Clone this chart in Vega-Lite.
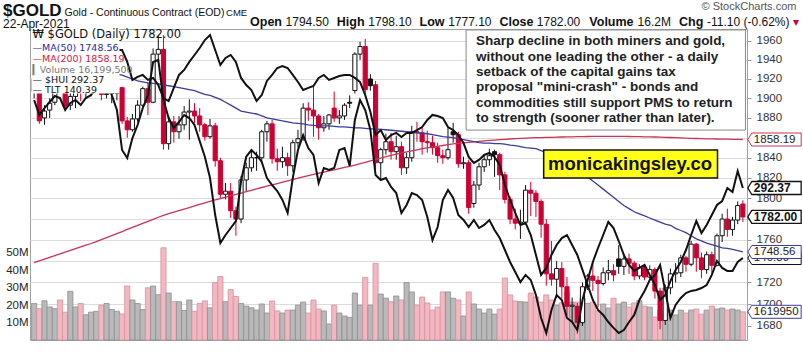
{
"$schema":"https://vega.github.io/schema/vega-lite/v6.json",
"width":717,"height":311,
"autosize":{"type":"none"},
"padding":{"left":30,"top":29,"right":56,"bottom":18},
"background":"white",
"config":{"view":{"stroke":"#a0a0a0","strokeWidth":1},"font":"Liberation Sans","axis":{"labelFont":"Liberation Sans","titleFont":"Liberation Sans"},"text":{"font":"Liberation Sans"}},
"datasets":{"gold":[
{"d":"2020-10-05","o":1907,"h":1922,"l":1900,"c":1920,"v":21,"m50":1938,"m200":1738.5,"hui":319.45,"tlt":158.75},
{"d":"2020-10-06","o":1920,"h":1925,"l":1874,"c":1877,"v":18,"m50":1937,"m200":1740.1,"hui":314.83,"tlt":159.01},
{"d":"2020-10-07","o":1880,"h":1893,"l":1873,"c":1887,"v":22.5,"m50":1936,"m200":1741.8,"hui":316.99,"tlt":158.49},
{"d":"2020-10-08","o":1888,"h":1900,"l":1880,"c":1895,"v":19,"m50":1935,"m200":1743.4,"hui":318.83,"tlt":158.67},
{"d":"2020-10-09","o":1896,"h":1935,"l":1893,"c":1930,"v":18,"m50":1934,"m200":1745.1,"hui":320.68,"tlt":159.18},
{"d":"2020-10-12","o":1930,"h":1935,"l":1918,"c":1925,"v":23,"m50":1933,"m200":1746.7,"hui":320.06,"tlt":159.53},
{"d":"2020-10-13","o":1925,"h":1929,"l":1888,"c":1892,"v":16,"m50":1932,"m200":1748.4,"hui":316.37,"tlt":159.18},
{"d":"2020-10-14","o":1893,"h":1910,"l":1888,"c":1902,"v":28,"m50":1931,"m200":1750.0,"hui":318.52,"tlt":158.84},
{"d":"2020-10-15","o":1902,"h":1912,"l":1890,"c":1908,"v":19,"m50":1930,"m200":1751.7,"hui":319.45,"tlt":158.32},
{"d":"2020-10-16","o":1908,"h":1916,"l":1897,"c":1906,"v":21,"m50":1929,"m200":1753.3,"hui":317.91,"tlt":158.49},
{"d":"2020-10-19","o":1906,"h":1921,"l":1900,"c":1911,"v":14.5,"m50":1928,"m200":1755.0,"hui":320.06,"tlt":157.89},
{"d":"2020-10-20","o":1911,"h":1923,"l":1902,"c":1914,"v":16,"m50":1927.5,"m200":1756.6,"hui":320.99,"tlt":158.15},
{"d":"2020-10-21","o":1914,"h":1936,"l":1910,"c":1930,"v":16.5,"m50":1927,"m200":1758.3,"hui":323.14,"tlt":157.63},
{"d":"2020-10-22","o":1930,"h":1932,"l":1898,"c":1904,"v":20,"m50":1926.5,"m200":1760.2,"hui":321.91,"tlt":157.29},
{"d":"2020-10-23","o":1904,"h":1915,"l":1900,"c":1905,"v":21,"m50":1926,"m200":1762.2,"hui":324.06,"tlt":157.63},
{"d":"2020-10-26","o":1905,"h":1916,"l":1895,"c":1905,"v":17.5,"m50":1925.5,"m200":1764.1,"hui":320.99,"tlt":157.98},
{"d":"2020-10-27","o":1905,"h":1917,"l":1898,"c":1911,"v":16.5,"m50":1925,"m200":1766.1,"hui":316.37,"tlt":158.32},
{"d":"2020-10-28","o":1911,"h":1912,"l":1874,"c":1877,"v":15,"m50":1924,"m200":1768.0,"hui":304.06,"tlt":158.32},
{"d":"2020-10-29","o":1877,"h":1881,"l":1860,"c":1868,"v":31,"m50":1922,"m200":1770.0,"hui":301.60,"tlt":157.29},
{"d":"2020-10-30","o":1868,"h":1884,"l":1866,"c":1879,"v":23,"m50":1920,"m200":1771.9,"hui":307.75,"tlt":155.74},
{"d":"2020-11-02","o":1879,"h":1898,"l":1876,"c":1893,"v":21,"m50":1918,"m200":1773.9,"hui":311.75,"tlt":156.0},
{"d":"2020-11-03","o":1893,"h":1912,"l":1890,"c":1910,"v":17.5,"m50":1917,"m200":1775.8,"hui":316.99,"tlt":156.17},
{"d":"2020-11-04","o":1910,"h":1916,"l":1883,"c":1896,"v":30,"m50":1916,"m200":1777.8,"hui":320.99,"tlt":155.74},
{"d":"2020-11-05","o":1896,"h":1952,"l":1895,"c":1946,"v":31,"m50":1915.5,"m200":1779.7,"hui":331.14,"tlt":155.91},
{"d":"2020-11-06","o":1946,"h":1965,"l":1937,"c":1951,"v":26,"m50":1915,"m200":1781.7,"hui":331.76,"tlt":155.30},
{"d":"2020-11-09","o":1951,"h":1966,"l":1848,"c":1854,"v":53,"m50":1914,"m200":1783.6,"hui":319.45,"tlt":154.18},
{"d":"2020-11-10","o":1854,"h":1882,"l":1848,"c":1876,"v":27,"m50":1913,"m200":1785.1,"hui":313.91,"tlt":153.92},
{"d":"2020-11-11","o":1876,"h":1882,"l":1855,"c":1866,"v":22,"m50":1912,"m200":1786.6,"hui":310.83,"tlt":155.05},
{"d":"2020-11-12","o":1866,"h":1882,"l":1859,"c":1873,"v":22,"m50":1911,"m200":1788.1,"hui":312.68,"tlt":156.17},
{"d":"2020-11-13","o":1873,"h":1892,"l":1868,"c":1886,"v":17,"m50":1910,"m200":1789.6,"hui":314.83,"tlt":156.60},
{"d":"2020-11-16","o":1886,"h":1899,"l":1858,"c":1887,"v":23,"m50":1909,"m200":1791.1,"hui":313.91,"tlt":157.29},
{"d":"2020-11-17","o":1887,"h":1895,"l":1875,"c":1882,"v":16.5,"m50":1908,"m200":1792.6,"hui":311.75,"tlt":157.89},
{"d":"2020-11-18","o":1882,"h":1890,"l":1866,"c":1873,"v":21,"m50":1906,"m200":1794.1,"hui":306.83,"tlt":158.49},
{"d":"2020-11-19","o":1873,"h":1875,"l":1857,"c":1861,"v":22.5,"m50":1904,"m200":1795.6,"hui":301.99,"tlt":159.18},
{"d":"2020-11-20","o":1861,"h":1879,"l":1859,"c":1872,"v":18.5,"m50":1903,"m200":1797.1,"hui":295.45,"tlt":159.61},
{"d":"2020-11-23","o":1872,"h":1875,"l":1831,"c":1837,"v":33,"m50":1901,"m200":1798.5,"hui":284.06,"tlt":158.32},
{"d":"2020-11-24","o":1837,"h":1840,"l":1800,"c":1804,"v":36.5,"m50":1899,"m200":1799.8,"hui":275.45,"tlt":157.03},
{"d":"2020-11-25","o":1804,"h":1815,"l":1799,"c":1807,"v":22,"m50":1896,"m200":1801.2,"hui":277.91,"tlt":157.63},
{"d":"2020-11-27","o":1807,"h":1815,"l":1781,"c":1788,"v":29,"m50":1893,"m200":1802.5,"hui":280.06,"tlt":157.89},
{"d":"2020-11-30","o":1788,"h":1792,"l":1764,"c":1780,"v":25,"m50":1890,"m200":1803.9,"hui":282.22,"tlt":157.29},
{"d":"2020-12-01","o":1780,"h":1822,"l":1776,"c":1818,"v":21,"m50":1887,"m200":1805.2,"hui":294.52,"tlt":155.91},
{"d":"2020-12-02","o":1818,"h":1835,"l":1807,"c":1830,"v":19.5,"m50":1886,"m200":1806.6,"hui":301.99,"tlt":155.30},
{"d":"2020-12-03","o":1830,"h":1847,"l":1826,"c":1840,"v":18.5,"m50":1885,"m200":1807.9,"hui":304.06,"tlt":154.87},
{"d":"2020-12-04","o":1840,"h":1846,"l":1827,"c":1840,"v":17.2,"m50":1884,"m200":1809.3,"hui":302.52,"tlt":153.92},
{"d":"2020-12-07","o":1840,"h":1868,"l":1836,"c":1866,"v":20.7,"m50":1882,"m200":1810.6,"hui":300.37,"tlt":154.44},
{"d":"2020-12-08","o":1866,"h":1877,"l":1856,"c":1874,"v":15.5,"m50":1880,"m200":1811.9,"hui":295.45,"tlt":155.65},
{"d":"2020-12-09","o":1874,"h":1878,"l":1834,"c":1839,"v":22.4,"m50":1879,"m200":1813.2,"hui":293.29,"tlt":156.17},
{"d":"2020-12-10","o":1839,"h":1849,"l":1827,"c":1836,"v":16.7,"m50":1878,"m200":1814.5,"hui":291.45,"tlt":156.77},
{"d":"2020-12-11","o":1836,"h":1851,"l":1830,"c":1840,"v":15.5,"m50":1877,"m200":1815.8,"hui":288.68,"tlt":156.94},
{"d":"2020-12-14","o":1840,"h":1845,"l":1822,"c":1832,"v":17.2,"m50":1876,"m200":1817.1,"hui":284.68,"tlt":156.77},
{"d":"2020-12-15","o":1832,"h":1858,"l":1826,"c":1855,"v":17.2,"m50":1875,"m200":1818.4,"hui":295.45,"tlt":156.17},
{"d":"2020-12-16","o":1855,"h":1868,"l":1850,"c":1859,"v":20,"m50":1874.5,"m200":1819.7,"hui":304.06,"tlt":155.56},
{"d":"2020-12-17","o":1859,"h":1895,"l":1857,"c":1890,"v":21.8,"m50":1874,"m200":1821.0,"hui":308.68,"tlt":154.87},
{"d":"2020-12-18","o":1890,"h":1896,"l":1877,"c":1888,"v":15.5,"m50":1873,"m200":1822.3,"hui":304.68,"tlt":155.05},
{"d":"2020-12-21","o":1888,"h":1912,"l":1861,"c":1882,"v":23,"m50":1872.5,"m200":1823.4,"hui":302.52,"tlt":155.22},
{"d":"2020-12-22","o":1882,"h":1884,"l":1858,"c":1870,"v":17.8,"m50":1872,"m200":1824.6,"hui":293.91,"tlt":155.91},
{"d":"2020-12-23","o":1870,"h":1882,"l":1866,"c":1874,"v":16.7,"m50":1872,"m200":1825.7,"hui":298.52,"tlt":156.17},
{"d":"2020-12-24","o":1874,"h":1884,"l":1868,"c":1883,"v":9.2,"m50":1872,"m200":1826.9,"hui":297.91,"tlt":155.74},
{"d":"2020-12-28","o":1890,"h":1907,"l":1876,"c":1880,"v":20,"m50":1871.5,"m200":1828.0,"hui":298.52,"tlt":155.91},
{"d":"2020-12-29","o":1880,"h":1888,"l":1874,"c":1882,"v":15.5,"m50":1871,"m200":1829.2,"hui":304.06,"tlt":156.08},
{"d":"2020-12-30","o":1882,"h":1895,"l":1878,"c":1893,"v":13.8,"m50":1871,"m200":1830.3,"hui":304.68,"tlt":156.17},
{"d":"2020-12-31","o":1896,"h":1903,"l":1890,"c":1895,"v":13,"m50":1870.5,"m200":1831.5,"hui":299.14,"tlt":156.17},
{"d":"2021-01-04","o":1908,"h":1948,"l":1905,"c":1946,"v":27,"m50":1870,"m200":1832.6,"hui":313.29,"tlt":155.91},
{"d":"2021-01-05","o":1946,"h":1959,"l":1940,"c":1954,"v":20,"m50":1870,"m200":1834.0,"hui":319.45,"tlt":155.56},
{"d":"2021-01-06","o":1954,"h":1962,"l":1903,"c":1909,"v":36,"m50":1869.5,"m200":1835.4,"hui":316.37,"tlt":154.44},
{"d":"2021-01-07","o":1920,"h":1925,"l":1908,"c":1913,"v":20,"m50":1869,"m200":1836.8,"hui":310.22,"tlt":152.98},
{"d":"2021-01-08","o":1914,"h":1918,"l":1828,"c":1835,"v":44,"m50":1869,"m200":1838.2,"hui":296.37,"tlt":150.99},
{"d":"2021-01-11","o":1835,"h":1850,"l":1818,"c":1848,"v":26.4,"m50":1868.5,"m200":1839.6,"hui":294.83,"tlt":151.42},
{"d":"2021-01-12","o":1848,"h":1864,"l":1843,"c":1856,"v":24,"m50":1868,"m200":1841.0,"hui":295.45,"tlt":150.56},
{"d":"2021-01-13","o":1856,"h":1865,"l":1838,"c":1846,"v":22,"m50":1867.5,"m200":1842.4,"hui":292.68,"tlt":150.99},
{"d":"2021-01-14","o":1846,"h":1862,"l":1838,"c":1851,"v":25.3,"m50":1867,"m200":1843.5,"hui":290.83,"tlt":151.17},
{"d":"2021-01-15","o":1851,"h":1856,"l":1823,"c":1830,"v":23,"m50":1866.5,"m200":1844.6,"hui":284.68,"tlt":150.82},
{"d":"2021-01-19","o":1830,"h":1845,"l":1824,"c":1840,"v":33,"m50":1866,"m200":1845.7,"hui":287.14,"tlt":151.17},
{"d":"2021-01-20","o":1840,"h":1872,"l":1836,"c":1866,"v":27.6,"m50":1865.5,"m200":1846.8,"hui":290.83,"tlt":151.17},
{"d":"2021-01-21","o":1866,"h":1876,"l":1856,"c":1865,"v":20,"m50":1865,"m200":1847.9,"hui":290.22,"tlt":151.42},
{"d":"2021-01-22","o":1865,"h":1870,"l":1843,"c":1856,"v":24.7,"m50":1864.5,"m200":1849.0,"hui":288.68,"tlt":151.68},
{"d":"2021-01-25","o":1856,"h":1867,"l":1845,"c":1855,"v":21.3,"m50":1864,"m200":1849.8,"hui":283.45,"tlt":152.29},
{"d":"2021-01-26","o":1855,"h":1862,"l":1843,"c":1850,"v":17.2,"m50":1863,"m200":1850.6,"hui":276.37,"tlt":152.72},
{"d":"2021-01-27","o":1850,"h":1855,"l":1835,"c":1842,"v":18.9,"m50":1862,"m200":1851.4,"hui":280.37,"tlt":152.63},
{"d":"2021-01-28","o":1842,"h":1848,"l":1834,"c":1840,"v":27.6,"m50":1861,"m200":1852.2,"hui":288.68,"tlt":152.46},
{"d":"2021-01-29","o":1840,"h":1870,"l":1838,"c":1848,"v":27.6,"m50":1860.5,"m200":1853.0,"hui":291.75,"tlt":151.68},
{"d":"2021-02-01","o":1866,"h":1875,"l":1855,"c":1863,"v":24,"m50":1860,"m200":1853.8,"hui":289.29,"tlt":151.42},
{"d":"2021-02-02","o":1863,"h":1866,"l":1830,"c":1834,"v":23,"m50":1859,"m200":1854.3,"hui":284.06,"tlt":150.99},
{"d":"2021-02-03","o":1834,"h":1841,"l":1829,"c":1835,"v":13.8,"m50":1858,"m200":1854.8,"hui":282.52,"tlt":150.30},
{"d":"2021-02-04","o":1835,"h":1838,"l":1785,"c":1791,"v":27.6,"m50":1857,"m200":1855.3,"hui":280.37,"tlt":149.10},
{"d":"2021-02-05","o":1795,"h":1817,"l":1791,"c":1813,"v":20.7,"m50":1856,"m200":1855.8,"hui":282.52,"tlt":148.58},
{"d":"2021-02-08","o":1813,"h":1835,"l":1808,"c":1831,"v":17.8,"m50":1855,"m200":1856.3,"hui":280.06,"tlt":148.84},
{"d":"2021-02-09","o":1831,"h":1843,"l":1826,"c":1838,"v":15.5,"m50":1854.5,"m200":1856.8,"hui":281.0,"tlt":149.27},
{"d":"2021-02-10","o":1838,"h":1849,"l":1832,"c":1842,"v":17.8,"m50":1854.5,"m200":1857.3,"hui":282.52,"tlt":149.44},
{"d":"2021-02-11","o":1846,"h":1848,"l":1821,"c":1843,"v":14.9,"m50":1854,"m200":1857.6,"hui":279.45,"tlt":149.10},
{"d":"2021-02-12","o":1843,"h":1845,"l":1808,"c":1823,"v":17.8,"m50":1854,"m200":1858.0,"hui":276.99,"tlt":148.41},
{"d":"2021-02-16","o":1823,"h":1826,"l":1795,"c":1799,"v":35.6,"m50":1853.5,"m200":1858.3,"hui":273.29,"tlt":146.68},
{"d":"2021-02-17","o":1799,"h":1802,"l":1775,"c":1780,"v":25.9,"m50":1852.5,"m200":1858.7,"hui":269.60,"tlt":145.39},
{"d":"2021-02-18","o":1780,"h":1790,"l":1770,"c":1776,"v":22.4,"m50":1852,"m200":1859.0,"hui":266.52,"tlt":144.27},
{"d":"2021-02-19","o":1776,"h":1789,"l":1761,"c":1777,"v":22,"m50":1851,"m200":1859.4,"hui":263.45,"tlt":143.23},
{"d":"2021-02-22","o":1777,"h":1813,"l":1775,"c":1808,"v":21.8,"m50":1850,"m200":1859.6,"hui":265.60,"tlt":143.41},
{"d":"2021-02-23","o":1808,"h":1816,"l":1783,"c":1805,"v":27,"m50":1849.5,"m200":1859.8,"hui":264.06,"tlt":142.37},
{"d":"2021-02-24","o":1805,"h":1808,"l":1782,"c":1797,"v":24.7,"m50":1849,"m200":1860.0,"hui":259.45,"tlt":140.65},
{"d":"2021-02-25","o":1797,"h":1799,"l":1762,"c":1775,"v":21.8,"m50":1847,"m200":1860.1,"hui":252.37,"tlt":138.93},
{"d":"2021-02-26","o":1775,"h":1780,"l":1717,"c":1728,"v":25.9,"m50":1845,"m200":1860.3,"hui":247.76,"tlt":139.53},
{"d":"2021-03-01","o":1728,"h":1759,"l":1717,"c":1723,"v":23,"m50":1843,"m200":1860.4,"hui":254.83,"tlt":140.65},
{"d":"2021-03-02","o":1723,"h":1740,"l":1706,"c":1733,"v":20,"m50":1840,"m200":1860.6,"hui":259.45,"tlt":141.51},
{"d":"2021-03-03","o":1733,"h":1739,"l":1705,"c":1716,"v":21.3,"m50":1837,"m200":1860.7,"hui":257.91,"tlt":142.11},
{"d":"2021-03-04","o":1716,"h":1725,"l":1690,"c":1698,"v":27.6,"m50":1834,"m200":1860.8,"hui":252.37,"tlt":142.37},
{"d":"2021-03-05","o":1698,"h":1706,"l":1684,"c":1699,"v":21.8,"m50":1831,"m200":1860.9,"hui":251.14,"tlt":141.51},
{"d":"2021-03-08","o":1698,"h":1701,"l":1673,"c":1683,"v":21.8,"m50":1828,"m200":1861.0,"hui":248.68,"tlt":140.65},
{"d":"2021-03-09","o":1683,"h":1720,"l":1680,"c":1716,"v":24,"m50":1825,"m200":1861.1,"hui":257.91,"tlt":139.36},
{"d":"2021-03-10","o":1716,"h":1728,"l":1713,"c":1726,"v":21,"m50":1821,"m200":1861.2,"hui":264.06,"tlt":138.06},
{"d":"2021-03-11","o":1726,"h":1739,"l":1712,"c":1722,"v":21.8,"m50":1817,"m200":1861.3,"hui":269.60,"tlt":136.77},
{"d":"2021-03-12","o":1722,"h":1726,"l":1697,"c":1719,"v":16.7,"m50":1813,"m200":1861.3,"hui":273.91,"tlt":135.91},
{"d":"2021-03-15","o":1719,"h":1734,"l":1717,"c":1729,"v":20.7,"m50":1809,"m200":1861.4,"hui":277.91,"tlt":135.48},
{"d":"2021-03-16","o":1729,"h":1741,"l":1722,"c":1731,"v":18.4,"m50":1805,"m200":1861.4,"hui":281.91,"tlt":134.87},
{"d":"2021-03-17","o":1731,"h":1737,"l":1721,"c":1727,"v":24,"m50":1801,"m200":1861.4,"hui":280.06,"tlt":134.36},
{"d":"2021-03-18","o":1742,"h":1755,"l":1728,"c":1735,"v":20.7,"m50":1797,"m200":1861.3,"hui":276.06,"tlt":133.92},
{"d":"2021-03-19","o":1735,"h":1745,"l":1727,"c":1742,"v":21.8,"m50":1793,"m200":1861.3,"hui":271.75,"tlt":134.18},
{"d":"2021-03-22","o":1742,"h":1747,"l":1728,"c":1738,"v":18.9,"m50":1790,"m200":1861.2,"hui":268.68,"tlt":134.87},
{"d":"2021-03-23","o":1738,"h":1740,"l":1722,"c":1726,"v":21.3,"m50":1787,"m200":1861.1,"hui":266.83,"tlt":135.48},
{"d":"2021-03-24","o":1726,"h":1737,"l":1723,"c":1734,"v":22.6,"m50":1785,"m200":1861.0,"hui":267.76,"tlt":136.77},
{"d":"2021-03-25","o":1734,"h":1737,"l":1722,"c":1725,"v":19.5,"m50":1783,"m200":1860.9,"hui":268.68,"tlt":137.55},
{"d":"2021-03-26","o":1725,"h":1736,"l":1722,"c":1732,"v":18.9,"m50":1781,"m200":1860.8,"hui":265.60,"tlt":138.49},
{"d":"2021-03-29","o":1732,"h":1734,"l":1705,"c":1712,"v":13.2,"m50":1779,"m200":1860.7,"hui":262.52,"tlt":138.93},
{"d":"2021-03-30","o":1712,"h":1715,"l":1677,"c":1685,"v":17.2,"m50":1777,"m200":1860.6,"hui":257.91,"tlt":139.79},
{"d":"2021-03-31","o":1685,"h":1718,"l":1681,"c":1715,"v":14.9,"m50":1775,"m200":1860.4,"hui":259.45,"tlt":137.55},
{"d":"2021-04-01","o":1715,"h":1733,"l":1709,"c":1728,"v":17.2,"m50":1774,"m200":1860.2,"hui":263.75,"tlt":135.22},
{"d":"2021-04-05","o":1728,"h":1738,"l":1720,"c":1729,"v":14.4,"m50":1771,"m200":1860.0,"hui":267.14,"tlt":136.34},
{"d":"2021-04-06","o":1729,"h":1746,"l":1725,"c":1743,"v":17.2,"m50":1769,"m200":1859.8,"hui":269.60,"tlt":136.94},
{"d":"2021-04-07","o":1743,"h":1745,"l":1730,"c":1737,"v":15.5,"m50":1767,"m200":1859.6,"hui":273.29,"tlt":137.37},
{"d":"2021-04-08","o":1737,"h":1759,"l":1735,"c":1756,"v":17.2,"m50":1764,"m200":1859.4,"hui":277.91,"tlt":137.55},
{"d":"2021-04-09","o":1756,"h":1757,"l":1730,"c":1743,"v":17.8,"m50":1761,"m200":1859.2,"hui":282.22,"tlt":137.63},
{"d":"2021-04-12","o":1743,"h":1748,"l":1724,"c":1732,"v":14.9,"m50":1759,"m200":1859.0,"hui":278.52,"tlt":137.80},
{"d":"2021-04-13","o":1732,"h":1749,"l":1728,"c":1746,"v":17.2,"m50":1757,"m200":1858.9,"hui":281.0,"tlt":138.06},
{"d":"2021-04-14","o":1746,"h":1749,"l":1729,"c":1736,"v":19.5,"m50":1755.5,"m200":1858.8,"hui":284.06,"tlt":138.93},
{"d":"2021-04-15","o":1736,"h":1766,"l":1735,"c":1764,"v":17.8,"m50":1754,"m200":1858.7,"hui":287.14,"tlt":140.13},
{"d":"2021-04-16","o":1764,"h":1785,"l":1758,"c":1780,"v":18.4,"m50":1752.5,"m200":1858.6,"hui":288.37,"tlt":139.53},
{"d":"2021-04-19","o":1780,"h":1790,"l":1763,"c":1770,"v":17.2,"m50":1752,"m200":1858.5,"hui":292.37,"tlt":139.27},
{"d":"2021-04-20","o":1770,"h":1782,"l":1764,"c":1779,"v":17.8,"m50":1751,"m200":1858.4,"hui":291.14,"tlt":139.27},
{"d":"2021-04-21","o":1779,"h":1797,"l":1775,"c":1793,"v":17.2,"m50":1749.8,"m200":1858.3,"hui":297.60,"tlt":140.05},
{"d":"2021-04-22","o":1794.5,"h":1798.1,"l":1777.1,"c":1782,"v":16.2,"m50":1748.56,"m200":1858.19,"hui":292.37,"tlt":140.39}
]},
"data":{"name":"gold"},
"resolve":{"scale":{"y":"independent"}},
"layer":[
{"transform":[{"window":[{"op":"lag","field":"c","as":"pc"}],"sort":[{"field":"d","order":"ascending"}]}],
 "layer":[
  {"mark":{"type":"bar","width":{"band":1},"strokeWidth":0.8},
   "encoding":{
    "x":{"field":"d","type":"ordinal","scale":{"type":"band","paddingInner":0,"paddingOuter":0.3},
      "axis":{"orient":"bottom","values":["2020-10-05","2020-10-12","2020-10-19","2020-10-26","2020-11-02","2020-11-09","2020-11-16","2020-11-23","2020-12-01","2020-12-07","2020-12-14","2020-12-21","2020-12-28","2021-01-04","2021-01-11","2021-01-19","2021-01-25","2021-02-01","2021-02-08","2021-02-16","2021-02-22","2021-03-01","2021-03-08","2021-03-15","2021-03-22","2021-03-29","2021-04-01","2021-04-12","2021-04-19"],
       "labelExpr":"datum.value == '2020-11-02' ? 'Nov' : datum.value == '2020-12-01' ? 'Dec' : datum.value == '2021-01-04' ? '2021' : datum.value == '2021-02-01' ? 'Feb' : datum.value == '2021-03-01' ? 'Mar' : datum.value == '2021-04-01' ? 'Apr' : '' + toNumber(substring(datum.value, 8, 10))",
       "labelFontWeight":{"condition":{"test":"indexof(['2020-11-02','2020-12-01','2021-01-04','2021-02-01','2021-03-01','2021-04-01'], datum.value) >= 0","value":"bold"},"value":"normal"},
       "labelFontSize":{"condition":{"test":"indexof(['2020-11-02','2020-12-01','2021-01-04','2021-02-01','2021-03-01','2021-04-01'], datum.value) >= 0","value":12.5},"value":11.5},
       "labelAngle":0,"labelOverlap":false,"labelColor":"#222","labelPadding":3,"ticks":false,"domain":false,"bandPosition":0.5,
       "grid":true,"gridColor":"#dcdcdc","title":null}},
    "y":{"field":"v","type":"quantitative","scale":{"domain":[0,178.7],"nice":false,"zero":true},
      "axis":{"orient":"left","values":[10,20,30,40,50],"labelExpr":"datum.value + 'M'","grid":false,"ticks":false,"domain":false,"labelFontSize":11.5,"labelColor":"#222","labelPadding":2,"title":null}},
    "fill":{"condition":{"test":"datum.pc != null && datum.c < datum.pc","value":"#f2b8c2"},"value":"#b9b9b9"},
    "stroke":{"condition":{"test":"datum.pc != null && datum.c < datum.pc","value":"#d8909d"},"value":"#8e8e8e"}
   }},
  {"transform":[{"filter":"datum.d == '2021-04-22'"}],
   "mark":{"type":"point","shape":"M0,0L0.3,-0.5L4.1,-0.5L4.1,0.5L0.3,0.5Z","size":676,"filled":false,"fill":"white","stroke":"#3b3b99","strokeWidth":1,"xOffset":5,"opacity":1},
   "encoding":{"x":{"field":"d","type":"ordinal","axis":null},"y":{"field":"v","type":"quantitative"}}},
  {"transform":[{"filter":"datum.d == '2021-04-22'"}],
   "mark":{"type":"text","align":"left","baseline":"middle","dx":11,"fontSize":11.5,"color":"#222"},
   "encoding":{"x":{"field":"d","type":"ordinal","axis":null},"y":{"field":"v","type":"quantitative"},"text":{"value":"1619950"}}}
 ]},
{"transform":[{"window":[{"op":"lag","field":"c","as":"pc"}],"sort":[{"field":"d","order":"ascending"}]}],
 "layer":[
  {"mark":{"type":"rule","strokeWidth":1},
   "encoding":{"x":{"field":"d","type":"ordinal","axis":null},
    "y":{"field":"l","type":"quantitative","scale":{"type":"log","domain":[1667.3,1972.6],"nice":false,"zero":false},
     "axis":{"orient":"right","values":[1680,1700,1720,1740,1760,1780,1800,1820,1840,1860,1880,1900,1920,1940,1960],"labelExpr":"indexof([1740,1780,1860], datum.value) >= 0 ? '' : '' + datum.value","grid":true,"gridColor":"#dcdcdc","domain":false,"ticks":true,"tickSize":4,"tickColor":"#999","labelFontSize":11.5,"labelColor":"#333","labelPadding":5,"title":null}},
    "y2":{"field":"h"},
    "color":{"condition":{"test":"datum.pc != null && datum.c < datum.pc","value":"#cc0033"},"value":"#111"}}},
  {"mark":{"type":"bar","width":{"band":0.8},"strokeWidth":1},
   "encoding":{"x":{"field":"d","type":"ordinal","axis":null},
    "y":{"field":"o","type":"quantitative"},"y2":{"field":"c"},
    "fill":{"condition":[{"test":"datum.c >= datum.o","value":"white"},{"test":"datum.pc != null && datum.c < datum.pc","value":"#cc0033"}],"value":"#111"},
    "stroke":{"condition":{"test":"datum.pc != null && datum.c < datum.pc","value":"#cc0033"},"value":"#111"}}},
  {"mark":{"type":"line","color":"#cc3355","strokeWidth":1.3},
   "encoding":{"x":{"field":"d","type":"ordinal","axis":null},"y":{"field":"m200","type":"quantitative"}}},
  {"mark":{"type":"line","color":"#3b3b99","strokeWidth":1.3},
   "encoding":{"x":{"field":"d","type":"ordinal","axis":null},"y":{"field":"m50","type":"quantitative"}}}
 ]},
{"layer":[
  {"mark":{"type":"line","color":"#111","strokeWidth":2},
   "encoding":{"x":{"field":"d","type":"ordinal","axis":null},"y":{"field":"hui","type":"quantitative","scale":{"domain":[245.6,341.3],"nice":false,"zero":false},"axis":null}}},
  {"transform":[{"filter":"datum.d == '2021-04-22'"}],
   "mark":{"type":"point","shape":"M0,0L0.3,-0.5L4.1,-0.5L4.1,0.5L0.3,0.5Z","size":676,"filled":false,"fill":"white","stroke":"#111","strokeWidth":1.3,"xOffset":5,"opacity":1},
   "encoding":{"x":{"field":"d","type":"ordinal","axis":null},"y":{"field":"hui","type":"quantitative"}}},
  {"transform":[{"filter":"datum.d == '2021-04-22'"}],
   "mark":{"type":"text","align":"left","baseline":"middle","dx":11,"fontSize":12,"fontWeight":"bold","color":"#111"},
   "encoding":{"x":{"field":"d","type":"ordinal","axis":null},"y":{"field":"hui","type":"quantitative"},"text":{"field":"hui","format":".2f"}}}
 ]},
{"layer":[
  {"mark":{"type":"line","color":"#111","strokeWidth":2},
   "encoding":{"x":{"field":"d","type":"ordinal","axis":null},"y":{"field":"tlt","type":"quantitative","scale":{"domain":[133.32,160.13],"nice":false,"zero":false},"axis":null}}},
  {"transform":[{"filter":"datum.d == '2021-04-22'"}],
   "mark":{"type":"point","shape":"M0,0L0.3,-0.5L4.1,-0.5L4.1,0.5L0.3,0.5Z","size":676,"filled":false,"fill":"white","stroke":"#111","strokeWidth":1,"xOffset":5,"opacity":1},
   "encoding":{"x":{"field":"d","type":"ordinal","axis":null},"y":{"field":"tlt","type":"quantitative"}}},
  {"transform":[{"filter":"datum.d == '2021-04-22'"}],
   "mark":{"type":"text","align":"left","baseline":"middle","dx":11,"fontSize":11.5,"color":"#222"},
   "encoding":{"x":{"field":"d","type":"ordinal","axis":null},"y":{"field":"tlt","type":"quantitative"},"text":{"field":"tlt","format":".2f"}}}
 ]},
{"layer":[
  {"data":{"values":[{"k":"legend"}]},
   "mark":{"type":"rect","fill":"white"},
   "encoding":{"x":{"datum":"2020-10-05","type":"ordinal","bandPosition":0,"axis":null},"x2":{"datum":"2020-10-27","bandPosition":1},
    "y":{"datum":1972.6,"type":"quantitative","scale":{"type":"log","domain":[1667.3,1972.6],"nice":false,"zero":false},"axis":null},"y2":{"datum":1905}}},
  {"data":{"values":[{"t":"\u20a9 $GOLD (Daily) 1782.00"}]},
   "mark":{"type":"text","align":"left","baseline":"middle","dx":1,"font":"DejaVu Sans","fontSize":11.5,"color":"#111"},
   "encoding":{"x":{"datum":"2020-10-05","type":"ordinal","bandPosition":0,"axis":null},"y":{"datum":1966.1,"type":"quantitative"},"text":{"field":"t"}}},
  {"data":{"values":[{"t":"\u2014MA(50) 1748.56"}]},
   "mark":{"type":"text","align":"left","baseline":"middle","dx":1,"font":"DejaVu Sans","fontSize":9.5,"color":"#2b2b99"},
   "encoding":{"x":{"datum":"2020-10-05","type":"ordinal","bandPosition":0,"axis":null},"y":{"datum":1952.7,"type":"quantitative"},"text":{"field":"t"}}},
  {"data":{"values":[{"t":"\u2014MA(200) 1858.19"}]},
   "mark":{"type":"text","align":"left","baseline":"middle","dx":1,"font":"DejaVu Sans","fontSize":9.5,"color":"#cc2244"},
   "encoding":{"x":{"datum":"2020-10-05","type":"ordinal","bandPosition":0,"axis":null},"y":{"datum":1940.5,"type":"quantitative"},"text":{"field":"t"}}},
  {"data":{"values":[{"t":"\u258eVolume 16,199,500"}]},
   "mark":{"type":"text","align":"left","baseline":"middle","dx":1,"font":"DejaVu Sans","fontSize":9.5,"color":"#777"},
   "encoding":{"x":{"datum":"2020-10-05","type":"ordinal","bandPosition":0,"axis":null},"y":{"datum":1929.3,"type":"quantitative"},"text":{"field":"t"}}},
  {"data":{"values":[{"t":"\u2014 $HUI 292.37"}]},
   "mark":{"type":"text","align":"left","baseline":"middle","dx":1,"font":"DejaVu Sans","fontSize":9.5,"color":"#111"},
   "encoding":{"x":{"datum":"2020-10-05","type":"ordinal","bandPosition":0,"axis":null},"y":{"datum":1918.9,"type":"quantitative"},"text":{"field":"t"}}},
  {"data":{"values":[{"t":"\u2014 TLT 140.39"}]},
   "mark":{"type":"text","align":"left","baseline":"middle","dx":1,"font":"DejaVu Sans","fontSize":9.5,"color":"#111"},
   "encoding":{"x":{"datum":"2020-10-05","type":"ordinal","bandPosition":0,"axis":null},"y":{"datum":1908.6,"type":"quantitative"},"text":{"field":"t"}}},
  {"data":{"values":[{"k":"note"}]},
   "mark":{"type":"rect","fill":"white","stroke":"#888","strokeWidth":1},
   "encoding":{"x":{"datum":"2021-02-04","type":"ordinal","bandPosition":0,"axis":null},"x2":{"datum":"2021-04-22","bandPosition":1},
    "y":{"datum":1971.6,"type":"quantitative"},"y2":{"datum":1867.7}}},
  {"data":{"values":[{"t":["Sharp decline in both miners and gold,","without one leading the other - a daily","setback of the capital gains tax","proposal \"mini-crash\" - bonds and","commodities still support PMS to return","to strength (sooner rather than later)."]}]},
   "mark":{"type":"text","align":"left","baseline":"top","dx":10,"fontSize":13.5,"fontWeight":"bold","lineHeight":15.4,"color":"#222"},
   "encoding":{"x":{"datum":"2021-02-04","type":"ordinal","bandPosition":0,"axis":null},"y":{"datum":1967,"type":"quantitative"},"text":{"field":"t"}}},
  {"data":{"values":[{"k":"site"}]},
   "mark":{"type":"rect","fill":"#ffff1a","stroke":"#111","strokeWidth":1.5},
   "encoding":{"x":{"datum":"2021-02-26","type":"ordinal","bandPosition":0,"axis":null},"x2":{"datum":"2021-04-15","bandPosition":0.6},
    "y":{"datum":1847.7,"type":"quantitative"},"y2":{"datum":1819.9}}},
  {"data":{"values":[{"t":"monicakingsley.co"}]},
   "mark":{"type":"text","align":"center","baseline":"middle","fontSize":18.5,"fontWeight":"bold","color":"#111"},
   "encoding":{"x":{"datum":"2021-03-22","type":"ordinal","bandPosition":0.7,"axis":null},"y":{"datum":1833.8,"type":"quantitative"},"text":{"field":"t"}}},
  {"transform":[{"filter":"datum.d == '2021-04-22'"}],
   "mark":{"type":"point","shape":"M0,0L0.3,-0.5L4.1,-0.5L4.1,0.5L0.3,0.5Z","size":676,"filled":false,"fill":"white","stroke":"#cc3355","strokeWidth":1,"xOffset":5,"opacity":1},
   "encoding":{"x":{"field":"d","type":"ordinal","axis":null},"y":{"field":"m200","type":"quantitative"}}},
  {"transform":[{"filter":"datum.d == '2021-04-22'"}],
   "mark":{"type":"text","align":"left","baseline":"middle","dx":11,"fontSize":11.5,"color":"#222"},
   "encoding":{"x":{"field":"d","type":"ordinal","axis":null},"y":{"field":"m200","type":"quantitative"},"text":{"field":"m200","format":".2f"}}},
  {"transform":[{"filter":"datum.d == '2021-04-22'"}],
   "mark":{"type":"point","shape":"M0,0L0.3,-0.5L4.1,-0.5L4.1,0.5L0.3,0.5Z","size":676,"filled":false,"fill":"white","stroke":"#111","strokeWidth":1.3,"xOffset":5,"opacity":1},
   "encoding":{"x":{"field":"d","type":"ordinal","axis":null},"y":{"field":"c","type":"quantitative"}}},
  {"transform":[{"filter":"datum.d == '2021-04-22'"}],
   "mark":{"type":"text","align":"left","baseline":"middle","dx":11,"fontSize":12,"fontWeight":"bold","color":"#111"},
   "encoding":{"x":{"field":"d","type":"ordinal","axis":null},"y":{"field":"c","type":"quantitative"},"text":{"field":"c","format":".2f"}}},
  {"transform":[{"filter":"datum.d == '2021-04-22'"}],
   "mark":{"type":"point","shape":"M0,0L0.3,-0.5L4.1,-0.5L4.1,0.5L0.3,0.5Z","size":676,"filled":false,"fill":"white","stroke":"#3b3b99","strokeWidth":1,"xOffset":5,"opacity":1},
   "encoding":{"x":{"field":"d","type":"ordinal","axis":null},"y":{"field":"m50","type":"quantitative"}}},
  {"transform":[{"filter":"datum.d == '2021-04-22'"}],
   "mark":{"type":"text","align":"left","baseline":"middle","dx":11,"fontSize":11.5,"color":"#222"},
   "encoding":{"x":{"field":"d","type":"ordinal","axis":null},"y":{"field":"m50","type":"quantitative"},"text":{"field":"m50","format":".2f"}}},
  {"data":{"values":[{"t":"$GOLD"}]},
   "mark":{"type":"text","align":"left","baseline":"alphabetic","dx":-28.5,"fontSize":17,"fontWeight":"bold","color":"#111"},
   "encoding":{"x":{"datum":"2020-10-05","type":"ordinal","bandPosition":0,"axis":null},"y":{"datum":1986.5,"type":"quantitative"},"text":{"field":"t"}}},
  {"data":{"values":[{"t":"Gold - Continuous Contract (EOD)"}]},
   "mark":{"type":"text","align":"left","baseline":"alphabetic","dx":33,"fontSize":10.5,"color":"#111"},
   "encoding":{"x":{"datum":"2020-10-05","type":"ordinal","bandPosition":0,"axis":null},"y":{"datum":1986.5,"type":"quantitative"},"text":{"field":"t"}}},
  {"data":{"values":[{"t":"CME"}]},
   "mark":{"type":"text","align":"left","baseline":"alphabetic","dx":194.5,"fontSize":9.5,"color":"#111"},
   "encoding":{"x":{"datum":"2020-10-05","type":"ordinal","bandPosition":0,"axis":null},"y":{"datum":1986.5,"type":"quantitative"},"text":{"field":"t"}}},
  {"data":{"values":[{"t":"22-Apr-2021"}]},
   "mark":{"type":"text","align":"left","baseline":"alphabetic","dx":-28.5,"fontSize":12,"color":"#111"},
   "encoding":{"x":{"datum":"2020-10-05","type":"ordinal","bandPosition":0,"axis":null},"y":{"datum":1973.6,"type":"quantitative"},"text":{"field":"t"}}},
  {"data":{"values":[{"t":"Open"}]},
   "mark":{"type":"text","align":"left","baseline":"alphabetic","dx":218.5,"fontSize":12.5,"fontWeight":"bold","color":"#111"},
   "encoding":{"x":{"datum":"2020-10-05","type":"ordinal","bandPosition":0,"axis":null},"y":{"datum":1975.8,"type":"quantitative"},"text":{"field":"t"}}},
  {"data":{"values":[{"t":"1794.50"}]},
   "mark":{"type":"text","align":"left","baseline":"alphabetic","dx":254,"fontSize":12,"color":"#111"},
   "encoding":{"x":{"datum":"2020-10-05","type":"ordinal","bandPosition":0,"axis":null},"y":{"datum":1975.8,"type":"quantitative"},"text":{"field":"t"}}},
  {"data":{"values":[{"t":"High"}]},
   "mark":{"type":"text","align":"left","baseline":"alphabetic","dx":305.2,"fontSize":12.5,"fontWeight":"bold","color":"#111"},
   "encoding":{"x":{"datum":"2020-10-05","type":"ordinal","bandPosition":0,"axis":null},"y":{"datum":1975.8,"type":"quantitative"},"text":{"field":"t"}}},
  {"data":{"values":[{"t":"1798.10"}]},
   "mark":{"type":"text","align":"left","baseline":"alphabetic","dx":336.8,"fontSize":12,"color":"#111"},
   "encoding":{"x":{"datum":"2020-10-05","type":"ordinal","bandPosition":0,"axis":null},"y":{"datum":1975.8,"type":"quantitative"},"text":{"field":"t"}}},
  {"data":{"values":[{"t":"Low"}]},
   "mark":{"type":"text","align":"left","baseline":"alphabetic","dx":388,"fontSize":12.5,"fontWeight":"bold","color":"#111"},
   "encoding":{"x":{"datum":"2020-10-05","type":"ordinal","bandPosition":0,"axis":null},"y":{"datum":1975.8,"type":"quantitative"},"text":{"field":"t"}}},
  {"data":{"values":[{"t":"1777.10"}]},
   "mark":{"type":"text","align":"left","baseline":"alphabetic","dx":416.6,"fontSize":12,"color":"#111"},
   "encoding":{"x":{"datum":"2020-10-05","type":"ordinal","bandPosition":0,"axis":null},"y":{"datum":1975.8,"type":"quantitative"},"text":{"field":"t"}}},
  {"data":{"values":[{"t":"Close"}]},
   "mark":{"type":"text","align":"left","baseline":"alphabetic","dx":467.9,"fontSize":12.5,"fontWeight":"bold","color":"#111"},
   "encoding":{"x":{"datum":"2020-10-05","type":"ordinal","bandPosition":0,"axis":null},"y":{"datum":1975.8,"type":"quantitative"},"text":{"field":"t"}}},
  {"data":{"values":[{"t":"1782.00"}]},
   "mark":{"type":"text","align":"left","baseline":"alphabetic","dx":505.3,"fontSize":12,"color":"#111"},
   "encoding":{"x":{"datum":"2020-10-05","type":"ordinal","bandPosition":0,"axis":null},"y":{"datum":1975.8,"type":"quantitative"},"text":{"field":"t"}}},
  {"data":{"values":[{"t":"Volume"}]},
   "mark":{"type":"text","align":"left","baseline":"alphabetic","dx":557.8,"fontSize":12.5,"fontWeight":"bold","color":"#111"},
   "encoding":{"x":{"datum":"2020-10-05","type":"ordinal","bandPosition":0,"axis":null},"y":{"datum":1975.8,"type":"quantitative"},"text":{"field":"t"}}},
  {"data":{"values":[{"t":"16.2M"}]},
   "mark":{"type":"text","align":"left","baseline":"alphabetic","dx":606,"fontSize":12,"color":"#111"},
   "encoding":{"x":{"datum":"2020-10-05","type":"ordinal","bandPosition":0,"axis":null},"y":{"datum":1975.8,"type":"quantitative"},"text":{"field":"t"}}},
  {"data":{"values":[{"t":"Chg"}]},
   "mark":{"type":"text","align":"left","baseline":"alphabetic","dx":647.5,"fontSize":12.5,"fontWeight":"bold","color":"#111"},
   "encoding":{"x":{"datum":"2020-10-05","type":"ordinal","bandPosition":0,"axis":null},"y":{"datum":1975.8,"type":"quantitative"},"text":{"field":"t"}}},
  {"data":{"values":[{"t":"-11.10 (-0.62%)"}]},
   "mark":{"type":"text","align":"left","baseline":"alphabetic","dx":675.5,"fontSize":12,"color":"#111"},
   "encoding":{"x":{"datum":"2020-10-05","type":"ordinal","bandPosition":0,"axis":null},"y":{"datum":1975.8,"type":"quantitative"},"text":{"field":"t"}}},
  {"data":{"values":[{"t":"\u25be"}]},
   "mark":{"type":"text","align":"left","baseline":"alphabetic","dx":761.3,"fontSize":12,"color":"#cc0033"},
   "encoding":{"x":{"datum":"2020-10-05","type":"ordinal","bandPosition":0,"axis":null},"y":{"datum":1975.8,"type":"quantitative"},"text":{"field":"t"}}},
  {"data":{"values":[{"t":"\u00a9 StockCharts.com"}]},
   "mark":{"type":"text","align":"right","baseline":"alphabetic","dx":51,"fontSize":11,"color":"#555"},
   "encoding":{"x":{"datum":"2021-04-22","type":"ordinal","bandPosition":1,"axis":null},"y":{"datum":1992.9,"type":"quantitative"},"text":{"field":"t"}}}
 ]}
]
}
